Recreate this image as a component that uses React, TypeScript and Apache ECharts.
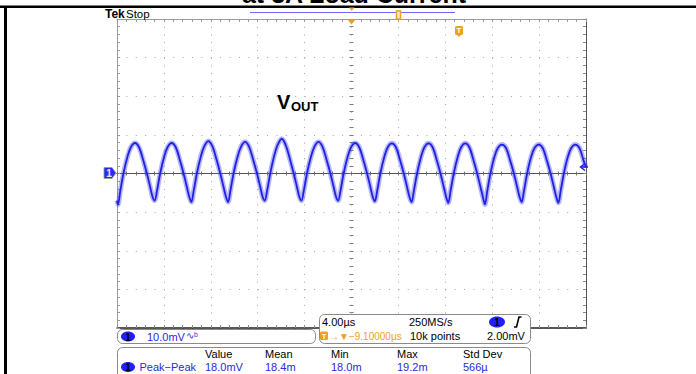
import React, { useEffect, useRef } from "react";
import * as echarts from "echarts";

// Trace: time (µs, trigger at 0) and voltage (mV, AC coupled)
const traceTimeUs = [
  -20, -19.92, -19.72, -19.45, -19.12, -18.82, -18.47, -18.12, -17.77, -17.45, -17.17, -16.97,
  -16.79, -16.59, -16.32, -15.99, -15.69, -15.34, -14.99, -14.64, -14.32, -14.04, -13.84,
  -13.66, -13.46, -13.19, -12.86, -12.56, -12.21, -11.86, -11.51, -11.19, -10.91, -10.71,
  -10.53, -10.33, -10.06, -9.73, -9.43, -9.08, -8.73, -8.38, -8.06, -7.78, -7.58,
  -7.4, -7.2, -6.93, -6.6, -6.3, -5.95, -5.6, -5.25, -4.93, -4.65, -4.45,
  -4.27, -4.07, -3.8, -3.47, -3.17, -2.82, -2.47, -2.12, -1.8, -1.52, -1.32,
  -1.14, -0.94, -0.67, -0.34, -0.04, 0.31, 0.66, 1.01, 1.33, 1.61, 1.81,
  1.99, 2.19, 2.46, 2.79, 3.09, 3.44, 3.79, 4.14, 4.46, 4.74, 4.94,
  5.12, 5.32, 5.59, 5.92, 6.22, 6.57, 6.92, 7.27, 7.59, 7.87, 8.07,
  8.25, 8.45, 8.72, 9.05, 9.35, 9.7, 10.05, 10.4, 10.72, 11.0, 11.2,
  11.38, 11.58, 11.85, 12.18, 12.48, 12.83, 13.18, 13.53, 13.85, 14.13, 14.33,
  14.51, 14.71, 14.98, 15.31, 15.61, 15.96, 16.31, 16.66, 16.98, 17.26, 17.46,
  17.64, 17.84, 18.11, 18.44, 18.74, 19.09, 19.44, 19.79, 20.0,
];
const traceMv = [
  -7.0, -8.0, -4.5, 0, 4.2, 6.8, 7.9, 6.8, 3.5, 0, -3.5, -6.0,
  -7.0, -4.5, 0, 4.2, 6.8, 7.9, 6.8, 3.5, 0, -3.5, -6.0,
  -7.4, -4.5, 0, 4.3, 7.0, 8.4, 7.0, 3.6, 0, -3.5, -6.0,
  -7.4, -4.5, 0, 4.2, 6.9, 8.2, 6.9, 3.5, 0, -3.5, -6.0,
  -7.0, -4.5, 0, 4.5, 7.4, 9.0, 7.3, 3.7, 0, -3.5, -6.0,
  -7.0, -4.5, 0, 4.2, 6.9, 8.2, 6.9, 3.5, 0, -3.5, -6.0,
  -7.0, -4.5, 0, 4.2, 6.8, 7.9, 6.8, 3.5, 0, -3.5, -6.0,
  -7.2, -4.5, 0, 4.2, 6.8, 7.8, 6.8, 3.5, 0, -3.5, -6.0,
  -7.4, -4.5, 0, 4.2, 6.8, 7.8, 6.8, 3.5, 0, -3.5, -6.0,
  -7.6, -4.5, 0, 4.2, 6.8, 7.8, 6.8, 3.5, 0, -3.5, -6.0,
  -8.0, -4.5, 0, 4.2, 6.6, 7.5, 6.6, 3.4, 0, -3.5, -6.0,
  -7.4, -4.5, 0, 4.2, 6.6, 7.5, 6.6, 3.4, 0, -3.5, -6.0,
  -7.6, -4.5, 0, 4.2, 6.6, 7.5, 6.6, 3.4, 1.6,
];

const timeRange = [-20, 20]; // 10 div x 4.00 µs
const voltRange = [-40, 40]; // 8 div x 10.0 mV
const titleText = "at 3A Load Current";
const measureHeaders = ["Value", "Mean", "Min", "Max", "Std Dev"];
const measureValues = ["18.0mV", "18.4m", "18.0m", "19.2m", "566µ"];

const FONT = '"Liberation Sans", Arial, sans-serif';
const ORANGE = "#f0a020";
const BLUE = "#2020e8";
const TBLUE = "#2a2ad8";

function txt(x: number, y: number, text: string, o: any = {}, z: number = 22) {
  return {
    type: "text",
    x,
    y,
    silent: true,
    z,
    style: {
      text,
      fontFamily: FONT,
      fontSize: 11,
      fill: "#000",
      align: "left",
      verticalAlign: "middle",
      ...o,
    },
  };
}

export default function App() {
  const ref = useRef<HTMLDivElement>(null);
  useEffect(() => {
    if (!ref.current) return;
    const chart = echarts.init(ref.current, null, { renderer: "svg" });
    const data = traceTimeUs.map((t, i) => [t, traceMv[i]]);

    const baseX: any = {
      type: "value",
      min: timeRange[0],
      max: timeRange[1],
      interval: 4,
      axisLabel: { show: false },
      splitLine: { show: false },
    };
    const baseY: any = {
      type: "value",
      min: voltRange[0],
      max: voltRange[1],
      interval: 10,
      axisLabel: { show: false },
      splitLine: { show: false },
    };
    const tick = (inside: boolean, len: number, color: string) => ({
      axisTick: { show: true, inside, length: len, lineStyle: { color, width: 1 } },
      minorTick: { show: true, splitNumber: 5, length: len, lineStyle: { color, width: 1 } },
    });

    const ellipse1 = (cx: number, cy: number, rx: number, ry: number) => [
      { type: "ellipse", z: 20, silent: true, shape: { cx, cy, rx, ry }, style: { fill: "#1f1fff" } },
      txt(cx, cy + 0.5, "1", { align: "center", fontSize: 10, fontWeight: "bold", fill: "#000" }),
    ];

    const graphic: any[] = [
      // cut-off title at the very top
      txt(354, 3 - 0.35 * 25, titleText, { align: "center", fontSize: 25, fontWeight: "bold" }, 18),
      { type: "rect", z: 20, silent: true, shape: { x: 0, y: 5.5, width: 696, height: 2.5 }, style: { fill: "#000" } },
      { type: "rect", z: 20, silent: true, shape: { x: 4, y: 6, width: 3, height: 368 }, style: { fill: "#000" } },
      // Tek Stop
      txt(105, 13.5, "Tek", { fontWeight: "bold", fontSize: 12 }),
      txt(126, 13.5, "Stop", { fontSize: 11.5 }),
      // record bar
      { type: "line", z: 20, silent: true, shape: { x1: 250, y1: 12.5, x2: 455, y2: 12.5 }, style: { stroke: "#6a6aff", lineWidth: 1 } },
      { type: "polygon", z: 21, silent: true, shape: { points: [[349, 7.5], [354.5, 7.5], [351.7, 11]] }, style: { fill: ORANGE } },
      { type: "rect", z: 21, silent: true, shape: { x: 396.5, y: 11, width: 4, height: 8 }, style: { fill: "#ffeccc", stroke: ORANGE, lineWidth: 1.5 } },
      // trigger position marker
      { type: "polygon", z: 21, silent: true, shape: { points: [[347.5, 19.5], [355.5, 19.5], [351.5, 24.5]] }, style: { fill: ORANGE } },
      // trigger level marker
      { type: "rect", z: 21, silent: true, shape: { x: 455, y: 26, width: 8, height: 9, r: 1.5 }, style: { fill: ORANGE } },
      { type: "polygon", z: 21, silent: true, shape: { points: [[457, 35], [461, 35], [459, 37]] }, style: { fill: ORANGE } },
      txt(459, 30.5, "T", { align: "center", fontSize: 8, fontWeight: "bold", fill: "#fff" }),
      // V_OUT label
      txt(277, 108.5 - 0.35 * 20, "V", { fontSize: 20, fontWeight: "bold" }),
      txt(291, 111 - 0.35 * 13, "OUT", { fontSize: 13, fontWeight: "bold" }),
      // channel 1 ground marker
      { type: "polygon", z: 21, silent: true, shape: { points: [[104, 167.5], [112, 167.5], [116, 173], [112, 178.5], [104, 178.5]] }, style: { fill: "#2a2aff", stroke: "#9a9a70", lineWidth: 0.8 } },
      txt(109, 173.5, "1", { align: "center", fontSize: 10, fontWeight: "bold", fill: "#e8ecff" }, 25),
      // right-edge arrow
      { type: "polyline", z: 21, silent: true, shape: { points: [[585, 163.5], [580.5, 167], [585, 170.5]] }, style: { stroke: BLUE, lineWidth: 1.5, fill: null } },
      { type: "line", z: 21, silent: true, shape: { x1: 581, y1: 167, x2: 588, y2: 167 }, style: { stroke: BLUE, lineWidth: 1.5 } },

      // Box A: channel scale
      { type: "rect", z: 19, silent: true, shape: { x: 117.5, y: 329.5, width: 198, height: 14, r: 5 }, style: { fill: "#fff", stroke: "#8a8a8a", lineWidth: 1 } },
      ...ellipse1(128, 336.5, 7, 5),
      txt(147, 336.5, "10.0mV", { fill: TBLUE }),
      txt(186, 335.5, "∿ᵇ", { fill: TBLUE, fontSize: 10 }),

      // Box B: timebase
      { type: "rect", z: 19, silent: true, shape: { x: 319.5, y: 314.5, width: 211, height: 29, r: 5 }, style: { fill: "#fff", stroke: "#8a8a8a", lineWidth: 1 } },
      txt(322, 322, "4.00µs"),
      txt(409, 322, "250MS/s"),
      ...ellipse1(497, 322, 8, 5.5),
      { type: "polyline", z: 21, silent: true, shape: { points: [[514, 327], [516.5, 327], [519, 317], [521.5, 317]] }, style: { stroke: "#000", lineWidth: 1.6, fill: null } },
      { type: "rect", z: 21, silent: true, shape: { x: 320, y: 331.5, width: 8, height: 8.5, r: 1.5 }, style: { fill: ORANGE } },
      txt(324, 336, "T", { align: "center", fontSize: 7.5, fontWeight: "bold", fill: "#fff" }),
      txt(329, 336, "→▼−9.10000µs", { fill: ORANGE, fontSize: 10 }),
      txt(410, 336, "10k points"),
      txt(487, 336, "2.00mV"),

      // Box C: measurements
      { type: "rect", z: 19, silent: true, shape: { x: 117.5, y: 347.5, width: 413, height: 40, r: 5 }, style: { fill: "#fff", stroke: "#8a8a8a", lineWidth: 1 } },
      ...ellipse1(128, 367, 7, 5),
      txt(139.5, 367, "Peak−Peak", { fill: TBLUE }),
    ];
    const colX = [205, 265, 331, 397, 463];
    measureHeaders.forEach((h, i) => graphic.push(txt(colX[i], 354, h)));
    measureValues.forEach((v, i) => graphic.push(txt(colX[i], 367, v, { fill: TBLUE })));

    chart.setOption({
      animation: false,
      backgroundColor: "#fff",
      grid: { left: 117, top: 19, width: 469, height: 309, containLabel: false },
      xAxis: [
        {
          ...baseX,
          position: "bottom",
          axisLine: { show: true, onZero: false, lineStyle: { color: "#222", width: 1.5 } },
          ...tick(true, 3, "#888"),
          splitLine: { show: true, lineStyle: { color: "#a0a0a0", width: 1, type: [1, 6.725] } },
        },
        {
          ...baseX,
          position: "top",
          axisLine: { show: true, onZero: false, lineStyle: { color: "#9a9a9a", width: 1 } },
          ...tick(true, 3, "#999"),
        },
        {
          ...baseX,
          position: "bottom",
          axisLine: { show: true, onZero: true, onZeroAxisIndex: 0, lineStyle: { color: "#555", width: 1 } },
          ...tick(true, 2, "#777"),
        },
        {
          ...baseX,
          position: "bottom",
          axisLine: { show: true, onZero: true, onZeroAxisIndex: 0, lineStyle: { color: "#555", width: 1 } },
          ...tick(false, 2, "#777"),
        },
      ],
      yAxis: [
        {
          ...baseY,
          position: "left",
          axisLine: { show: true, onZero: false, lineStyle: { color: "#9a9a9a", width: 1 } },
          ...tick(true, 3, "#999"),
          splitLine: { show: true, lineStyle: { color: "#a0a0a0", width: 1, type: [1, 8.38] } },
        },
        {
          ...baseY,
          position: "right",
          axisLine: { show: true, onZero: false, lineStyle: { color: "#555", width: 1 } },
          ...tick(true, 3, "#888"),
        },
        {
          ...baseY,
          position: "left",
          axisLine: { show: false, onZero: true, onZeroAxisIndex: 0 },
          ...tick(true, 2, "#777"),
        },
        {
          ...baseY,
          position: "left",
          axisLine: { show: false, onZero: true, onZeroAxisIndex: 0 },
          ...tick(false, 2, "#777"),
        },
      ],
      series: [
        {
          type: "line",
          xAxisIndex: 0,
          yAxisIndex: 0,
          data,
          showSymbol: false,
          smooth: 0.35,
          silent: true,
          z: 3,
          lineStyle: { color: "rgba(70,70,255,0.4)", width: 5 },
        },
        {
          type: "line",
          xAxisIndex: 0,
          yAxisIndex: 0,
          data,
          showSymbol: false,
          smooth: 0.35,
          silent: true,
          z: 4,
          lineStyle: { color: "#2020e0", width: 1.8 },
        },
      ],
      graphic,
    });
    return () => chart.dispose();
  }, []);
  return (
    <div
      ref={ref}
      style={{ position: "absolute", left: 0, top: 0, width: 696, height: 374, background: "#fff" }}
    />
  );
}
